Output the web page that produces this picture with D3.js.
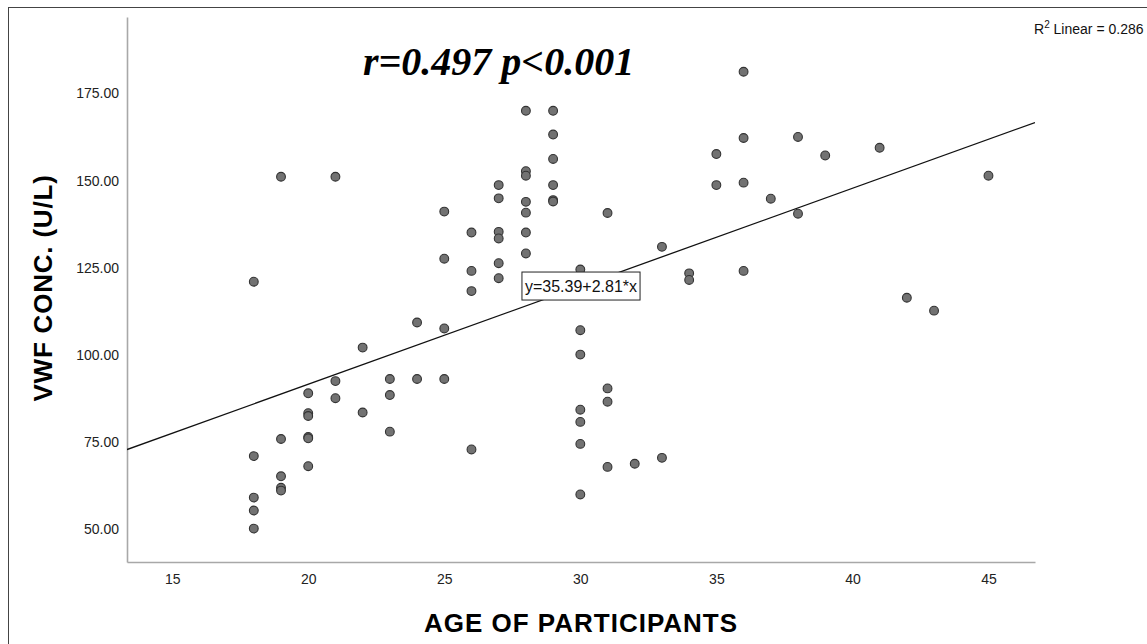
<!DOCTYPE html>
<html>
<head>
<meta charset="utf-8">
<script src="https://cdn.jsdelivr.net/npm/d3@7"></script>
<style>
  html, body { margin: 0; padding: 0; background: #fff; overflow: hidden; }
  svg { display: block; }
</style>
</head>
<body>
<div id="chart"></div>
<script>
'use strict';

// Age of each participant and the matching VWF concentration (U/L).
const ages = [
  18, 18, 18, 18, 18,
  19, 19, 19, 19, 19,
  20, 20, 20, 20, 20, 20,
  21, 21, 21,
  22, 22,
  23, 23, 23,
  24, 24,
  25, 25, 25, 25,
  26, 26, 26, 26,
  27, 27, 27, 27, 27, 27,
  28, 28, 28, 28, 28, 28, 28,
  29, 29, 29, 29, 29, 29,
  30, 30, 30, 30, 30, 30, 30,
  31, 31, 31, 31,
  32,
  33, 33,
  34, 34,
  35, 35,
  36, 36, 36, 36,
  37,
  38, 38,
  39,
  41,
  42,
  43,
  45
];
const vwf = [
  121.0, 71.0, 59.1, 55.4, 50.2,
  151.1, 75.9, 65.2, 61.9, 61.1,
  89.0, 83.3, 82.5, 76.5, 76.1, 68.1,
  151.1, 92.5, 87.6,
  102.1, 83.5,
  93.1, 88.5, 78.0,
  109.3, 93.1,
  141.1, 127.6, 107.6, 93.1,
  135.1, 124.1, 118.3, 72.9,
  148.7, 144.9, 135.3, 133.4, 126.3, 122.0,
  170.0, 152.7, 151.4, 143.9, 140.8, 135.1, 129.1,
  170.0, 163.2, 156.2, 148.7, 144.4, 144.0,
  124.5, 107.1, 100.1, 84.3, 80.8, 74.5, 60.0,
  140.7, 90.4, 86.6, 67.9,
  68.8,
  131.0, 70.5,
  123.4, 121.5,
  157.6, 148.7,
  181.2, 162.2, 149.4, 124.1,
  144.8,
  162.5, 140.5,
  157.2,
  159.4,
  116.4,
  112.7,
  151.4
];

const xTicks = [15, 20, 25, 30, 35, 40, 45];
const yTicks = [50, 75, 100, 125, 150, 175];
const fit = { intercept: 35.39, slope: 2.81 };
const fitLabel = 'y=35.39+2.81*x';
const r2Label = '0.286';
const statLabel = 'r=0.497 p<0.001';
const xTitle = 'AGE OF PARTICIPANTS';
const yTitle = 'VWF CONC.  (U/L)';

const W = 1147, H = 644;
const plot = { left: 127, right: 1035, top: 17, bottom: 562 };

const svg = d3.select('#chart').append('svg')
  .attr('width', W)
  .attr('height', H);

// Outer frame (right / bottom edges run off the picture).
svg.append('rect')
  .attr('x', 8.5).attr('y', 7.5)
  .attr('width', 1300).attr('height', 800)
  .attr('fill', '#fff')
  .attr('stroke', '#444')
  .attr('stroke-width', 1);

const x = d3.scaleLinear().domain([13.34, 46.71]).range([plot.left, plot.right]);
const y = d3.scaleLinear().domain([40.63, 196.9]).range([plot.bottom, plot.top]);

// Axes: SPSS style, no tick marks, light grey lines.
const xAxis = d3.axisBottom(x).tickValues(xTicks).tickSize(0).tickPadding(12).tickFormat(d3.format('d'));
const yAxis = d3.axisLeft(y).tickValues(yTicks).tickSize(0).tickPadding(8).tickFormat(d3.format('.2f'));

const gx = svg.append('g').attr('transform', `translate(0,${plot.bottom})`).call(xAxis);
const gy = svg.append('g').attr('transform', `translate(${plot.left},0)`).call(yAxis);

[gx, gy].forEach(g => {
  g.select('.domain').attr('stroke', '#a8a8a8').attr('stroke-width', 1.6);
  g.selectAll('text')
    .attr('fill', '#222')
    .style('font-family', '"Liberation Sans", Arial, sans-serif')
    .style('font-size', '14px');
});

// Clip for the fit line.
svg.append('clipPath').attr('id', 'plot-clip')
  .append('rect')
  .attr('x', plot.left).attr('y', plot.top)
  .attr('width', plot.right - plot.left).attr('height', plot.bottom - plot.top);

const [x0, x1] = x.domain();
const fitY = v => fit.intercept + fit.slope * v;

svg.append('line')
  .attr('clip-path', 'url(#plot-clip)')
  .attr('x1', x(x0)).attr('y1', y(fitY(x0)))
  .attr('x2', x(x1)).attr('y2', y(fitY(x1)))
  .attr('stroke', '#111')
  .attr('stroke-width', 1.3);

// Points.
svg.append('g')
  .selectAll('circle')
  .data(ages.map((a, i) => ({ age: a, v: vwf[i] })))
  .enter()
  .append('circle')
  .attr('cx', d => x(d.age))
  .attr('cy', d => y(d.v))
  .attr('r', 4.4)
  .attr('fill', '#727272')
  .attr('stroke', '#333')
  .attr('stroke-width', 1.1);

// Fit equation box, centred on the line's midpoint.
const xm = (x0 + x1) / 2;
const box = svg.append('g').attr('transform', `translate(${x(xm)},${y(fitY(xm))})`);
const boxText = box.append('text')
  .attr('text-anchor', 'middle')
  .attr('dy', '0.36em')
  .attr('fill', '#111')
  .style('font-family', '"Liberation Sans", Arial, sans-serif')
  .style('font-size', '16px')
  .text(fitLabel);
const bb = boxText.node().getBBox();
box.insert('rect', 'text')
  .attr('x', bb.x - 3).attr('y', -14)
  .attr('width', bb.width + 6).attr('height', 28)
  .attr('fill', '#fff')
  .attr('stroke', '#222')
  .attr('stroke-width', 1);

// R squared note in the corner (kept just inside the right edge).
const r2 = svg.append('text')
  .attr('x', 1034).attr('y', 34)
  .attr('fill', '#111')
  .style('font-family', '"Liberation Sans", Arial, sans-serif')
  .style('font-size', '14px');
r2.append('tspan').text('R');
r2.append('tspan').attr('dy', -6).style('font-size', '10px').text('2');
r2.append('tspan').attr('dy', 6).text(' Linear = ' + r2Label);

// Correlation statement.
svg.append('text')
  .attr('x', 363).attr('y', 75)
  .attr('fill', '#000')
  .style('font-family', '"Liberation Serif", "Times New Roman", serif')
  .style('font-weight', 'bold')
  .style('font-style', 'italic')
  .style('font-size', '40px')
  .text(statLabel);

// Axis titles.
svg.append('text')
  .attr('x', 581).attr('y', 632)
  .attr('text-anchor', 'middle')
  .attr('fill', '#000')
  .style('font-family', '"Liberation Sans", Arial, sans-serif')
  .style('font-weight', 'bold')
  .style('font-size', '26px')
  .style('letter-spacing', '1px')
  .text(xTitle);

svg.append('text')
  .attr('transform', 'translate(52,288) rotate(-90)')
  .attr('text-anchor', 'middle')
  .attr('fill', '#000')
  .style('font-family', '"Liberation Sans", Arial, sans-serif')
  .style('font-weight', 'bold')
  .style('font-size', '26px')
  .style('letter-spacing', '0.8px')
  .text(yTitle);
</script>
</body>
</html>
